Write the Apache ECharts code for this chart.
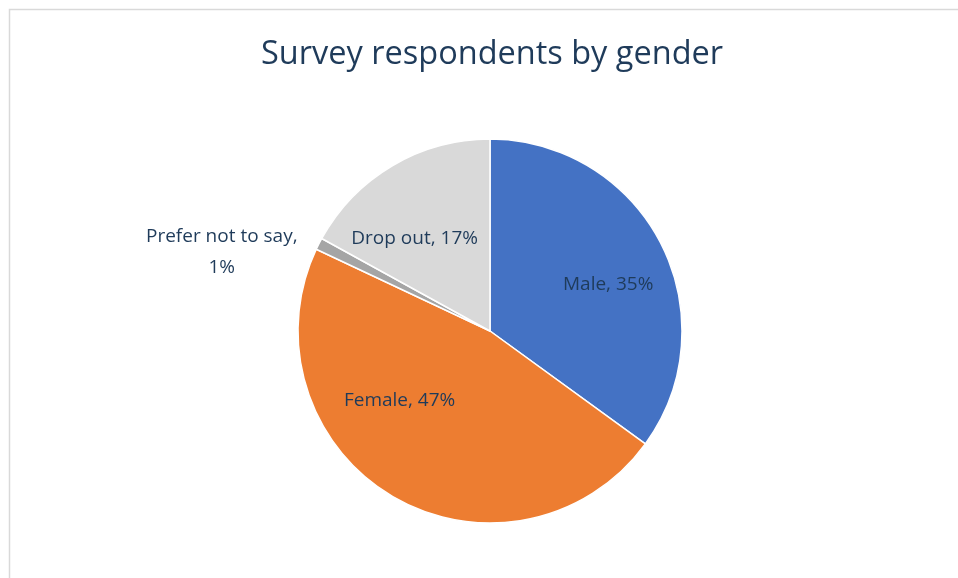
<!DOCTYPE html>
<html>
<head>
<meta charset="utf-8">
<script src="https://cdn.jsdelivr.net/npm/echarts@6/dist/echarts.min.js"></script>
<style>html,body{margin:0;padding:0;background:#fff;}#c{width:958px;height:578px;}</style>
</head>
<body>
<div id="c"></div>
<script>
const categories = ['Male', 'Female', 'Prefer not to say', 'Drop out'];
const values = [35, 47, 1, 17];
const colors = ['#4472C4', '#ED7D31', '#A5A5A5', '#D9D9D9'];
const labelOffsets = [[30, -1], [-40, -16], [-180, -34], [-25, -7]];

const chart = echarts.init(document.getElementById('c'), null, {renderer: 'canvas'});
const font = '"Open Sans", "Noto Sans", sans-serif';
const textColor = '#1F3B5A';

const data = categories.map((n, i) => ({
  name: n,
  value: values[i],
  itemStyle: {color: colors[i]},
  label: {
    offset: labelOffsets[i],
    formatter: i === 2 ? '{b},\n{c}%' : '{b}, {c}%'
  }
}));

chart.setOption({
  animation: false,
  backgroundColor: '#fff',
  graphic: [{
    type: 'rect',
    shape: {x: 9.5, y: 9.5, width: 960, height: 580},
    style: {fill: 'none', stroke: '#D9D9D9', lineWidth: 1.5},
    silent: true
  }],
  title: {
    text: 'Survey respondents by gender',
    left: 256,
    top: 33,
    textStyle: {fontFamily: font, fontSize: 32.5, fontWeight: 'normal', color: textColor}
  },
  series: [{
    type: 'pie',
    center: [490, 331],
    radius: [0, 192],
    startAngle: 90,
    clockwise: true,
    avoidLabelOverlap: false,
    data: data,
    itemStyle: {borderColor: '#fff', borderWidth: 1.5},
    label: {
      show: true,
      position: 'inside',
      fontFamily: font,
      fontSize: 19,
      lineHeight: 31,
      color: textColor,
      align: 'center'
    },
    labelLine: {show: false},
    emphasis: {disabled: true}
  }]
});
</script>
</body>
</html>
